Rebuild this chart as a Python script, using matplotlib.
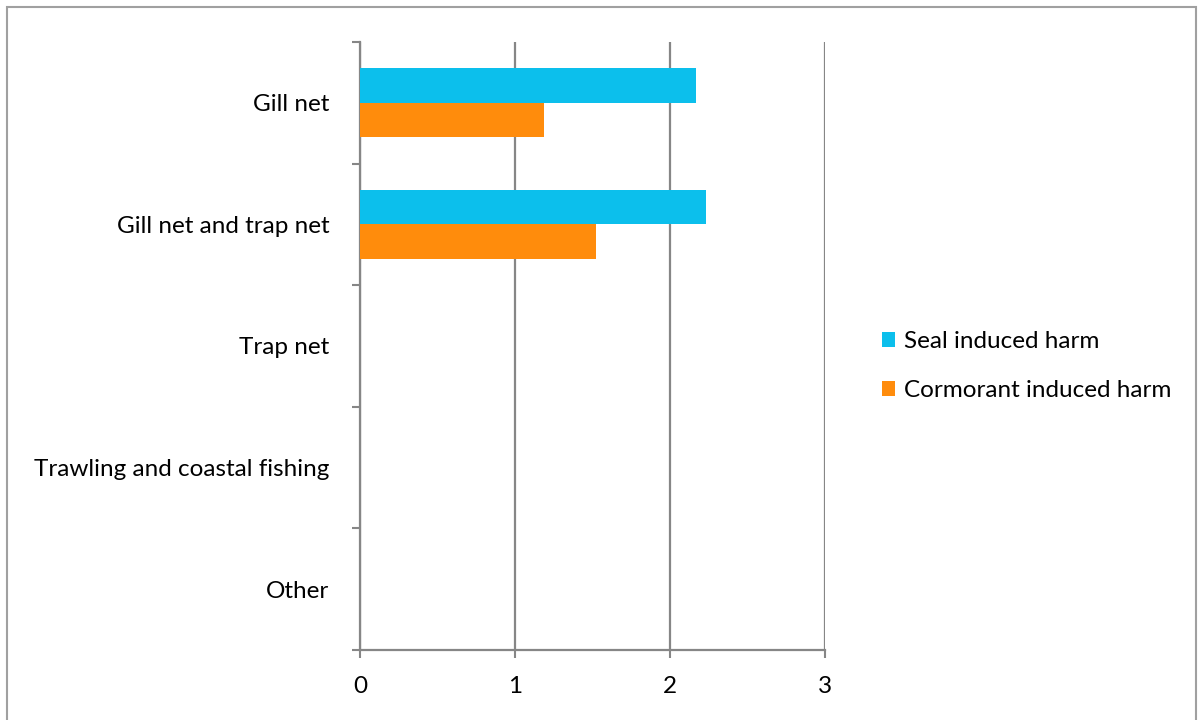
import numpy as np
import matplotlib.pyplot as plt
from matplotlib.patches import Rectangle

categories = ["Gill net", "Gill net and trap net", "Trap net",
              "Trawling and coastal fishing", "Other"]
seal = [2.17, 2.23, 0, 0, 0]
cormorant = [1.19, 1.52, 0, 0, 0]
series_names = ["Seal induced harm", "Cormorant induced harm"]

plt.rcParams['font.family'] = ['Lato', 'DejaVu Sans']

W, H = 1198, 720
fig = plt.figure(figsize=(W / 100, H / 100), dpi=100)
ax = fig.add_axes([360 / W, 1 - 650 / H, 465 / W, 608 / H])

grey = "#868686"
c_seal, c_corm = "#0cbfec", "#ff8c0c"
y = np.arange(len(categories))
h = 0.284
fs = 17.5

ax.barh(y - h / 2, seal, height=h, color=c_seal, label=series_names[0], zorder=3)
ax.barh(y + h / 2, cormorant, height=h, color=c_corm, label=series_names[1], zorder=3)

ax.set_xlim(0, 3)
ax.set_ylim(len(categories) - 0.5, -0.5)
ax.set_xticks([0, 1, 2, 3])
ax.set_xticklabels(["0", "1", "2", "3"], fontsize=fs)
ax.set_yticks(y)
ax.set_yticklabels(categories, fontsize=fs)
ax.set_yticks(np.arange(len(categories) + 1) - 0.5, minor=True)
ax.tick_params(axis='y', which='major', length=0, pad=22)
ax.tick_params(axis='y', which='minor', length=6, width=1.5, color=grey)
ax.tick_params(axis='x', length=6, width=1.5, color=grey, pad=13)

ax.grid(axis='x', color=grey, linewidth=1.6, zorder=0)
for s in ["top", "right"]:
    ax.spines[s].set_visible(False)
for s in ["left", "bottom"]:
    ax.spines[s].set_color(grey)
    ax.spines[s].set_linewidth(1.6)

fig.legend(loc='center left', bbox_to_anchor=(860 / W, 1 - 366 / H),
           frameon=False, fontsize=fs, handlelength=0.55, handleheight=0.55,
           handletextpad=0.35, labelspacing=1.15)

# outer chart border
fig.patches.append(Rectangle((7 / W, -0.05), 1189 / W, 1.05 - 7 / H,
                             transform=fig.transFigure, fill=False,
                             edgecolor="#a0a0a0", linewidth=1.5))

fig.savefig("out.png", dpi=100, facecolor="white")
